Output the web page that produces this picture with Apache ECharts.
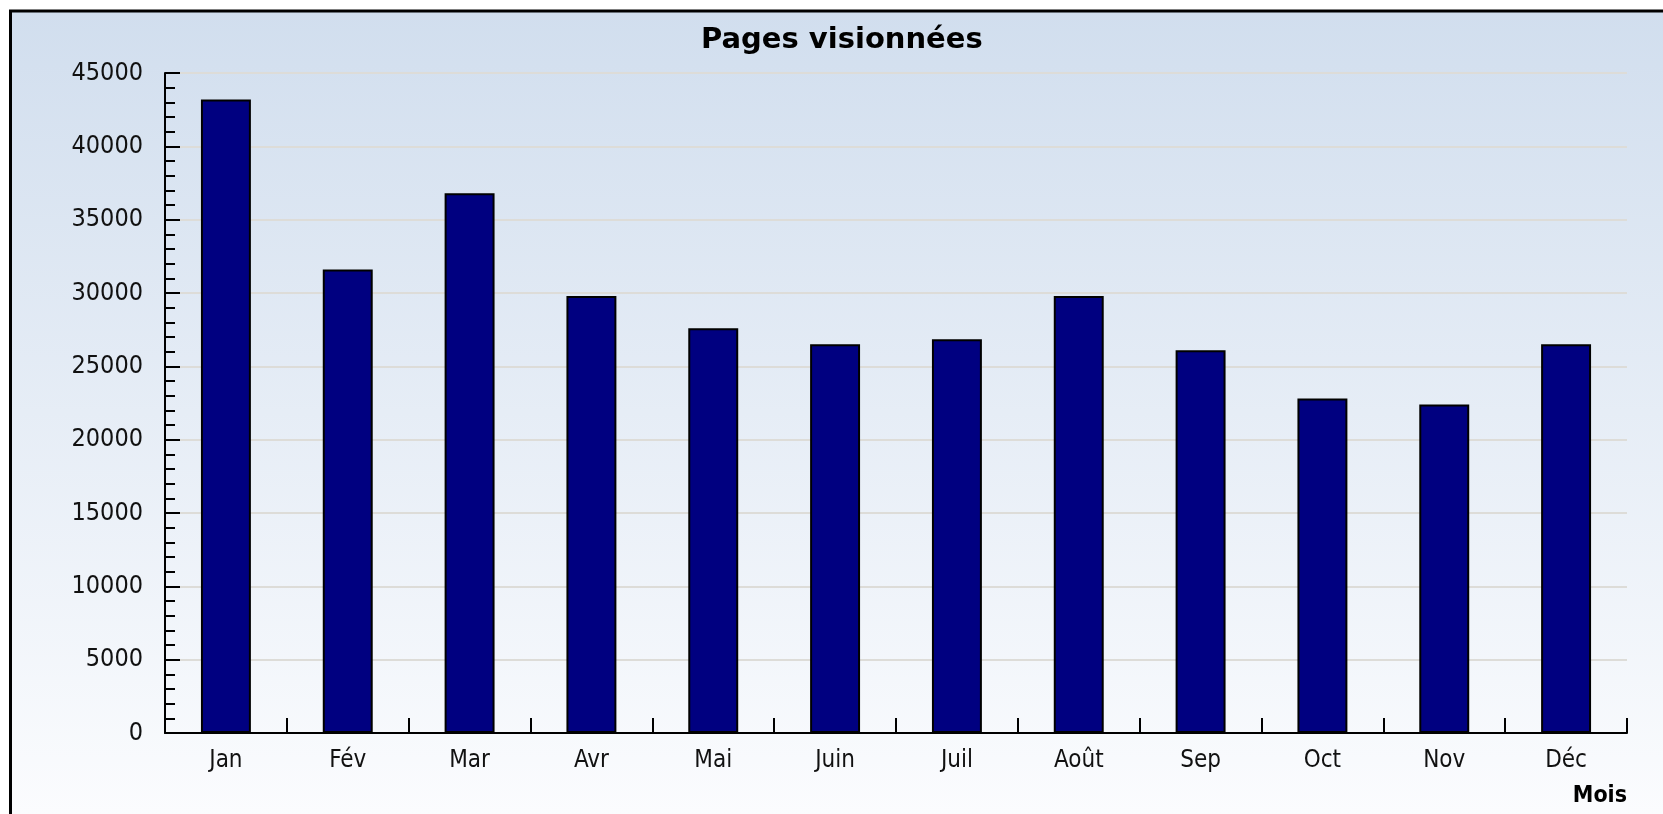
<!DOCTYPE html>
<html>
<head>
<meta charset="utf-8">
<title>Pages visionnées</title>
<script src="https://cdn.jsdelivr.net/npm/echarts@6/dist/echarts.min.js"></script>
<style>
  html, body { margin: 0; padding: 0; background: #fff; }
  #chart { width: 1663px; height: 814px; }
</style>
</head>
<body>
<div id="chart"></div>
<script>
// données
const months = ['Jan', 'Fév', 'Mar', 'Avr', 'Mai', 'Juin', 'Juil', 'Août', 'Sep', 'Oct', 'Nov', 'Déc']
const pageViews = [43200, 31600, 36800, 29800, 27600, 26500, 26850, 29800, 26100, 22800, 22400, 26500]
const yTicks = [0, 5000, 10000, 15000, 20000, 25000, 30000, 35000, 40000, 45000]

const labelFont = "'DejaVu Sans Condensed', 'DejaVu Sans', sans-serif"

const chart = echarts.init(document.getElementById('chart'))

chart.setOption({
  animation: false,
  graphic: [
    {
      type: 'rect',
      z: -100,
      shape: { x: 10, y: 10, width: 1653, height: 804 },
      style: {
        fill: new echarts.graphic.LinearGradient(0, 0, 0, 1, [
          { offset: 0, color: '#d1deee' },
          { offset: 1, color: '#fbfcfe' }
        ])
      }
    },
    {
      type: 'line',
      z: -99,
      shape: { x1: 9, y1: 11, x2: 1663, y2: 11 },
      style: { stroke: '#000', lineWidth: 3 }
    },
    {
      type: 'line',
      z: -99,
      shape: { x1: 10.5, y1: 10, x2: 10.5, y2: 814 },
      style: { stroke: '#000', lineWidth: 3 }
    }
  ],
  title: {
    text: 'Pages visionnées',
    left: 701,
    top: 26,
    padding: 0,
    textStyle: {
      fontFamily: "'DejaVu Sans', sans-serif",
      fontWeight: 'bold',
      fontSize: 29,
      color: '#000'
    }
  },
  grid: { left: 165, right: 36, top: 73, bottom: 81 },
  xAxis: {
    type: 'category',
    data: months,
    boundaryGap: true,
    name: 'Mois',
    nameLocation: 'end',
    nameGap: 0,
    nameTextStyle: {
      fontFamily: labelFont,
      fontWeight: 'bold',
      fontSize: 23,
      color: '#000',
      align: 'right',
      verticalAlign: 'top',
      padding: [52, 0, 0, 0]
    },
    axisLine: { lineStyle: { color: '#000', width: 2 } },
    axisTick: { show: true, inside: true, length: 15, interval: 0, lineStyle: { color: '#000', width: 2 } },
    axisLabel: { margin: 16, fontFamily: labelFont, fontSize: 24, color: '#111' },
    splitLine: { show: false }
  },
  yAxis: {
    type: 'value',
    min: yTicks[0],
    max: yTicks[yTicks.length - 1],
    interval: yTicks[1] - yTicks[0],
    axisLine: { show: true, lineStyle: { color: '#000', width: 2 } },
    axisTick: { show: true, inside: true, length: 15, lineStyle: { color: '#000', width: 2 } },
    minorTick: { show: true, splitNumber: 5, length: 10, lineStyle: { color: '#000', width: 2 } },
    axisLabel: {
      margin: 22,
      fontFamily: labelFont,
      fontSize: 25,
      color: '#111',
      formatter: (v) => String(v)
    },
    splitLine: { show: true, lineStyle: { color: '#dddcd8', width: 2 } }
  },
  series: [
    {
      type: 'bar',
      data: pageViews,
      barWidth: '41%',
      itemStyle: { color: '#000080', borderColor: '#000', borderWidth: 2 }
    }
  ]
})
</script>
</body>
</html>
